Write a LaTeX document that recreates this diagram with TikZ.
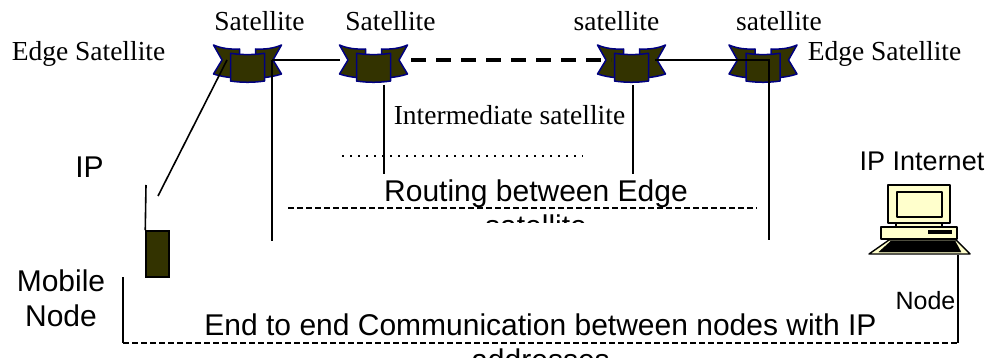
\documentclass[tikz,border=0pt]{standalone}
\usepackage{fontspec}
\setmainfont{Liberation Serif}
\setsansfont{Liberation Sans}
\definecolor{satfill}{HTML}{333300}
\definecolor{satline}{HTML}{000080}
\definecolor{pcfill}{HTML}{FFFFCC}
\tikzset{
  serif/.style={inner sep=0pt,font=\rmfamily\fontsize{27.5}{31}\selectfont},
  sans/.style={inner sep=0pt,align=center,font=\sffamily\fontsize{#1}{35}\selectfont},
  link/.style={line width=1.6pt},
  dashlink/.style={line width=1.3pt,dash pattern=on 5.5pt off 3.5pt},
  satbody/.style={draw=satline,fill=satfill,line width=1.5pt,line join=round},
  pcpart/.style={draw=black,fill=pcfill,line width=1.4pt,line join=round},
  pics/satellite/.style={code={
    \path[satbody] (-34,-15) .. controls (-26,-11.5) and (-17,-10.5) .. (-8,-11) -- (-8,18) -- (-17,17.5)
      .. controls (-22,17) and (-28,16) .. (-34,14) -- (-25.5,0) -- cycle;
    \path[satbody] (34,-15) .. controls (26,-11.5) and (17,-10.5) .. (8,-11) -- (8,18) -- (17,17.5)
      .. controls (22,17) and (28,16) .. (34,14) -- (25.5,0) -- cycle;
    \path[satbody] (-17,-6.7) .. controls (-6,-5) and (6,-5) .. (17,-6.7) -- (17,21)
      .. controls (6,22.7) and (-6,22.7) .. (-17,21) -- cycle;
  }},
  pics/computer/.style={code={
    \path[pcpart] (-23,38) rectangle (23,43);
    \path[pcpart] (-31,0) rectangle (31,38);
    \path[pcpart] (-22,7) rectangle (23,32);
    \path[pcpart] (-38,42) rectangle (38,54);
    \path[draw=black,fill=black] (9,45) rectangle (32,48);
    \path[pcpart] (-50,69) -- (-30,55) -- (37,55) -- (51,69) -- cycle;
    \path[draw=black,fill=black] (-40,67) -- (-28,56) -- (36,56) -- (42,67) -- cycle;
  }}
}
\begin{document}
\begin{tikzpicture}[x=1pt,y=-1pt]

      \useasboundingbox (0,0) rectangle (990,358);

      % satellites
      \pic at (247.5,60) {satellite};
      \pic at (373.5,60) {satellite};
      \pic at (631.5,60) {satellite};
      \pic at (763,60) {satellite};
      \pic at (919,185) {computer};

      \node[draw=black,fill=satfill,line width=1.5pt,inner sep=0pt,minimum width=23pt,minimum height=46pt] (mobile) at (157.5,254) {};

      \coordinate (sat1r)  at (272,60);
      \coordinate (sat1d)  at (272,241);
      \coordinate (sat1l)  at (227,60);
      \coordinate (sig)    at (158,196);
      \coordinate (sat2l)  at (340,60);
      \coordinate (sat2r)  at (411,60);
      \coordinate (sat2t)  at (384,85);
      \coordinate (sat2b)  at (384,174);
      \coordinate (sat3l)  at (611,60);
      \coordinate (sat3r)  at (655,60);
      \coordinate (sat3t)  at (633,85);
      \coordinate (sat3b)  at (633,174);
      \coordinate (sat4c)  at (769,60);
      \coordinate (sat4b)  at (769,240);
      \coordinate (ant)    at (146,185);
      \coordinate (dot1)   at (342,156);
      \coordinate (dot2)   at (583,156);
      \coordinate (rout1)  at (288,208);
      \coordinate (rout2)  at (757,208);
      \coordinate (left1)  at (123,277);
      \coordinate (left2)  at (123,343);
      \coordinate (right1) at (958,343);
      \coordinate (right2) at (958,255);

      \begin{scope}[every path/.style={link}]
        \draw (sat1r) -- (sat2l);
        \draw (sat3r) -- (sat4c) -- (sat4b);
        \draw (sat1r) -- (sat1d);
        \draw (sat1l) -- (sig);
        \draw (sat2t) -- (sat2b);
        \draw (sat3t) -- (sat3b);
        \draw (ant) -- (mobile.north west);
        \draw (left1) -- (left2);
        \draw (right1) -- (right2);
      \end{scope}

      \draw[line width=3.2pt,dash pattern=on 15pt off 10pt] (sat2r) -- (sat3l);
      \draw[line width=1.3pt,dash pattern=on 1.6pt off 6.4pt] (dot1) -- (dot2);
      \draw[dashlink] (rout1) -- (rout2);
      \draw[dashlink] (left2) -- (right1);

      \begin{scope}[every node/.style={serif}]
        \node (edge1)  at (88.5,54)  {Edge Satellite};
        \node (label1) at (259.5,21) {Satellite};
        \node (label2) at (390.5,21) {Satellite};
        \node (label3) at (616.5,21) {satellite};
        \node (label4) at (779,21)   {satellite};
        \node (edge2)  at (884.5,54) {Edge Satellite};
        \node (inter)  at (509.5,115) {Intermediate satellite};
      \end{scope}

      \node[sans=30] (ip)     at (89.5,167) {IP};
      \node[sans=27] (inet)   at (922,161)  {IP Internet};
      \node[sans=30] (mob)    at (61,298)   {Mobile\\Node};
      \node[sans=25] (node)   at (925.5,301) {Node};

      \begin{scope}
        \clip (0,0) rectangle (990,222);
        \node[sans=30,anchor=north] (routing) at (536,180) {Routing between Edge\\satellite};
      \end{scope}
      \begin{scope}
        \clip (0,0) rectangle (990,358);
        \node[sans=30,anchor=north] (end) at (540.5,314) {End to end Communication between nodes with IP\\addresses};
      \end{scope}

    \end{tikzpicture}
\end{document}
